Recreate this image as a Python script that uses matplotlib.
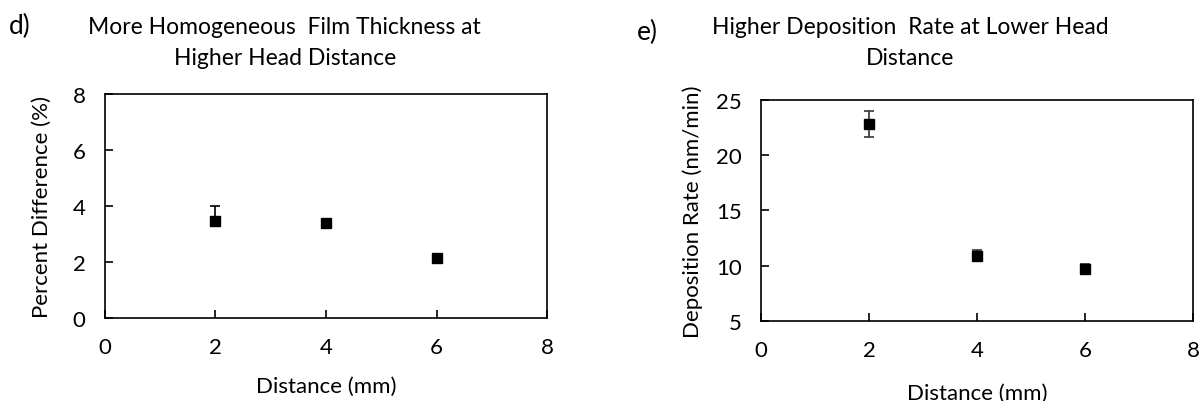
import numpy as np
import matplotlib
matplotlib.use("Agg")
import matplotlib.pyplot as plt

plt.rcParams['font.family'] = ['Lato', 'DejaVu Sans']

# film thickness uniformity vs head distance
dist = [2, 4, 6]
pct_diff = [3.45, 3.39, 2.14]
pct_err_lo = [0.0, 0.05, 0.03]
pct_err_hi = [0.56, 0.05, 0.03]

# deposition rate vs head distance
dep_rate = [22.8, 10.9, 9.7]
dep_err = [1.15, 0.5, 0.45]

fig = plt.figure(figsize=(12.01, 4.02), dpi=100)
ax1 = fig.add_axes([0.0874, 0.2065, 0.3681, 0.5572])
ax2 = fig.add_axes([0.6336, 0.199, 0.3597, 0.5505])

fs = 16
for ax in (ax1, ax2):
    for s in ax.spines.values():
        s.set_linewidth(1.2)
        s.set_color('black')
    ax.tick_params(direction='in', length=6, width=1.2, labelsize=fs,
                   colors='black', pad=14)
    ax.set_xlim(0, 8)
    ax.set_xticks([0, 2, 4, 6, 8])

ax1.errorbar(dist, pct_diff, yerr=[pct_err_lo, pct_err_hi], fmt='s',
             color='black', ms=6.5, ecolor='black', elinewidth=1.2,
             capsize=3.5, capthick=1.2)
ax1.set_ylim(0, 8)
ax1.set_yticks([0, 2, 4, 6, 8])
ax1.set_xlabel('Distance (mm)', fontsize=fs, labelpad=13)
ax1.set_ylabel('Percent Difference (%)', fontsize=fs, labelpad=15)

ax2.errorbar(dist, dep_rate, yerr=dep_err, fmt='s', color='black', ms=6.5,
             ecolor='#333333', elinewidth=1.2, capsize=3.5, capthick=1.2)
ax2.set_ylim(5, 25)
ax2.set_yticks([5, 10, 15, 20, 25])
ax2.set_xlabel('Distance (mm)', fontsize=fs, labelpad=16)
ax2.set_ylabel('Deposition Rate (nm/min)', fontsize=fs, labelpad=9)

fig.text(0.237, 0.893, 'More Homogeneous  Film Thickness at\nHigher Head Distance',
         ha='center', va='center', fontsize=16.5, linespacing=1.6)
fig.text(0.758, 0.893, 'Higher Deposition  Rate at Lower Head\nDistance',
         ha='center', va='center', fontsize=16.5, linespacing=1.6)
fig.text(0.007, 0.933, 'd)', ha='left', va='center', fontsize=19)
fig.text(0.530, 0.920, 'e)', ha='left', va='center', fontsize=19)

fig.savefig('out.png', dpi=100)
